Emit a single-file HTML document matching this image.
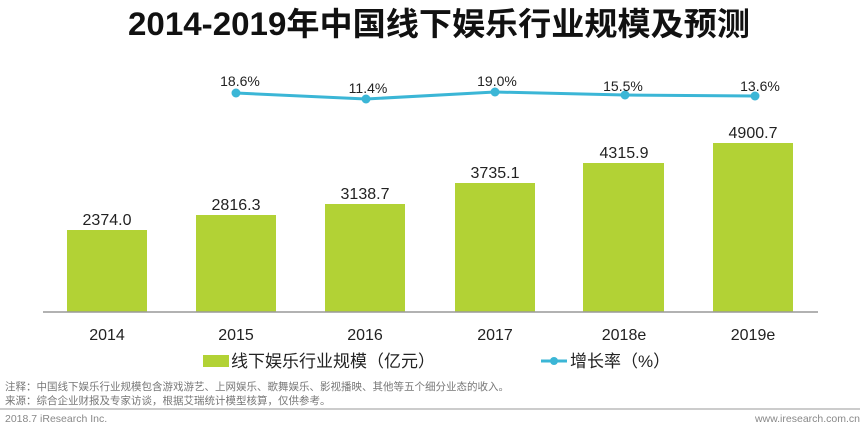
<!DOCTYPE html>
<html><head><meta charset="utf-8"><style>
html,body{margin:0;padding:0;background:#fff;}
body{width:865px;height:424px;overflow:hidden;}
svg text{font-family:"Liberation Sans","Noto Sans CJK SC",sans-serif;}
</style></head><body>
<svg width="865" height="424" viewBox="0 0 865 424" xmlns="http://www.w3.org/2000/svg">
<text x="128" y="35" font-size="32" font-weight="bold" fill="#111" textLength="622" lengthAdjust="spacingAndGlyphs">2014-2019年中国线下娱乐行业规模及预测</text>
<polyline points="236,93 366,99 495,92 625,95 755,96" fill="none" stroke="#3bb6d6" stroke-width="3"/>
<g fill="#3bb6d6"><circle cx="236" cy="93" r="4.5"/><circle cx="366" cy="99" r="4.5"/><circle cx="495" cy="92" r="4.5"/><circle cx="625" cy="95" r="4.5"/><circle cx="755" cy="96" r="4.5"/></g>
<g font-size="14" fill="#222" text-anchor="middle">
<text x="240" y="86">18.6%</text><text x="368" y="93">11.4%</text><text x="497" y="86">19.0%</text><text x="623" y="91">15.5%</text><text x="760" y="91">13.6%</text>
</g>
<g fill="#b2d235">
<rect x="67" y="230" width="80" height="82"/>
<rect x="196" y="215" width="80" height="97"/>
<rect x="325" y="204" width="80" height="108"/>
<rect x="455" y="183" width="80" height="129"/>
<rect x="583" y="163" width="81" height="149"/>
<rect x="713" y="143" width="80" height="169"/>
</g>
<line x1="43" y1="312" x2="818" y2="312" stroke="#999" stroke-width="1.5"/>
<g font-size="16" fill="#222" text-anchor="middle">
<text x="107" y="225">2374.0</text><text x="236" y="210">2816.3</text><text x="365" y="199">3138.7</text>
<text x="495" y="178">3735.1</text><text x="624" y="158">4315.9</text><text x="753" y="138">4900.7</text>
</g>
<g font-size="16" fill="#222" text-anchor="middle">
<text x="107" y="340">2014</text><text x="236" y="340">2015</text><text x="365" y="340">2016</text>
<text x="495" y="340">2017</text><text x="624" y="340">2018e</text><text x="753" y="340">2019e</text>
</g>
<rect x="203" y="355" width="26" height="12" fill="#b2d235"/>
<text x="231" y="367" font-size="17" fill="#222">线下娱乐行业规模（亿元）</text>
<line x1="541" y1="361" x2="567" y2="361" stroke="#3bb6d6" stroke-width="3"/>
<circle cx="554" cy="361" r="4" fill="#3bb6d6"/>
<text x="570" y="367" font-size="17" fill="#222">增长率（%）</text>
<text x="5" y="390" font-size="10.5" fill="#777">注释：中国线下娱乐行业规模包含游戏游艺、上网娱乐、歌舞娱乐、影视播映、其他等五个细分业态的收入。</text>
<text x="5" y="404" font-size="10.5" fill="#777">来源：综合企业财报及专家访谈，根据艾瑞统计模型核算，仅供参考。</text>
<line x1="0" y1="409" x2="860" y2="409" stroke="#999" stroke-width="1"/>
<text x="5" y="422" font-size="10.5" fill="#888">2018.7 iResearch Inc.</text>
<text x="860" y="422" font-size="10.5" fill="#888" text-anchor="end">www.iresearch.com.cn</text>
</svg>
</body></html>
